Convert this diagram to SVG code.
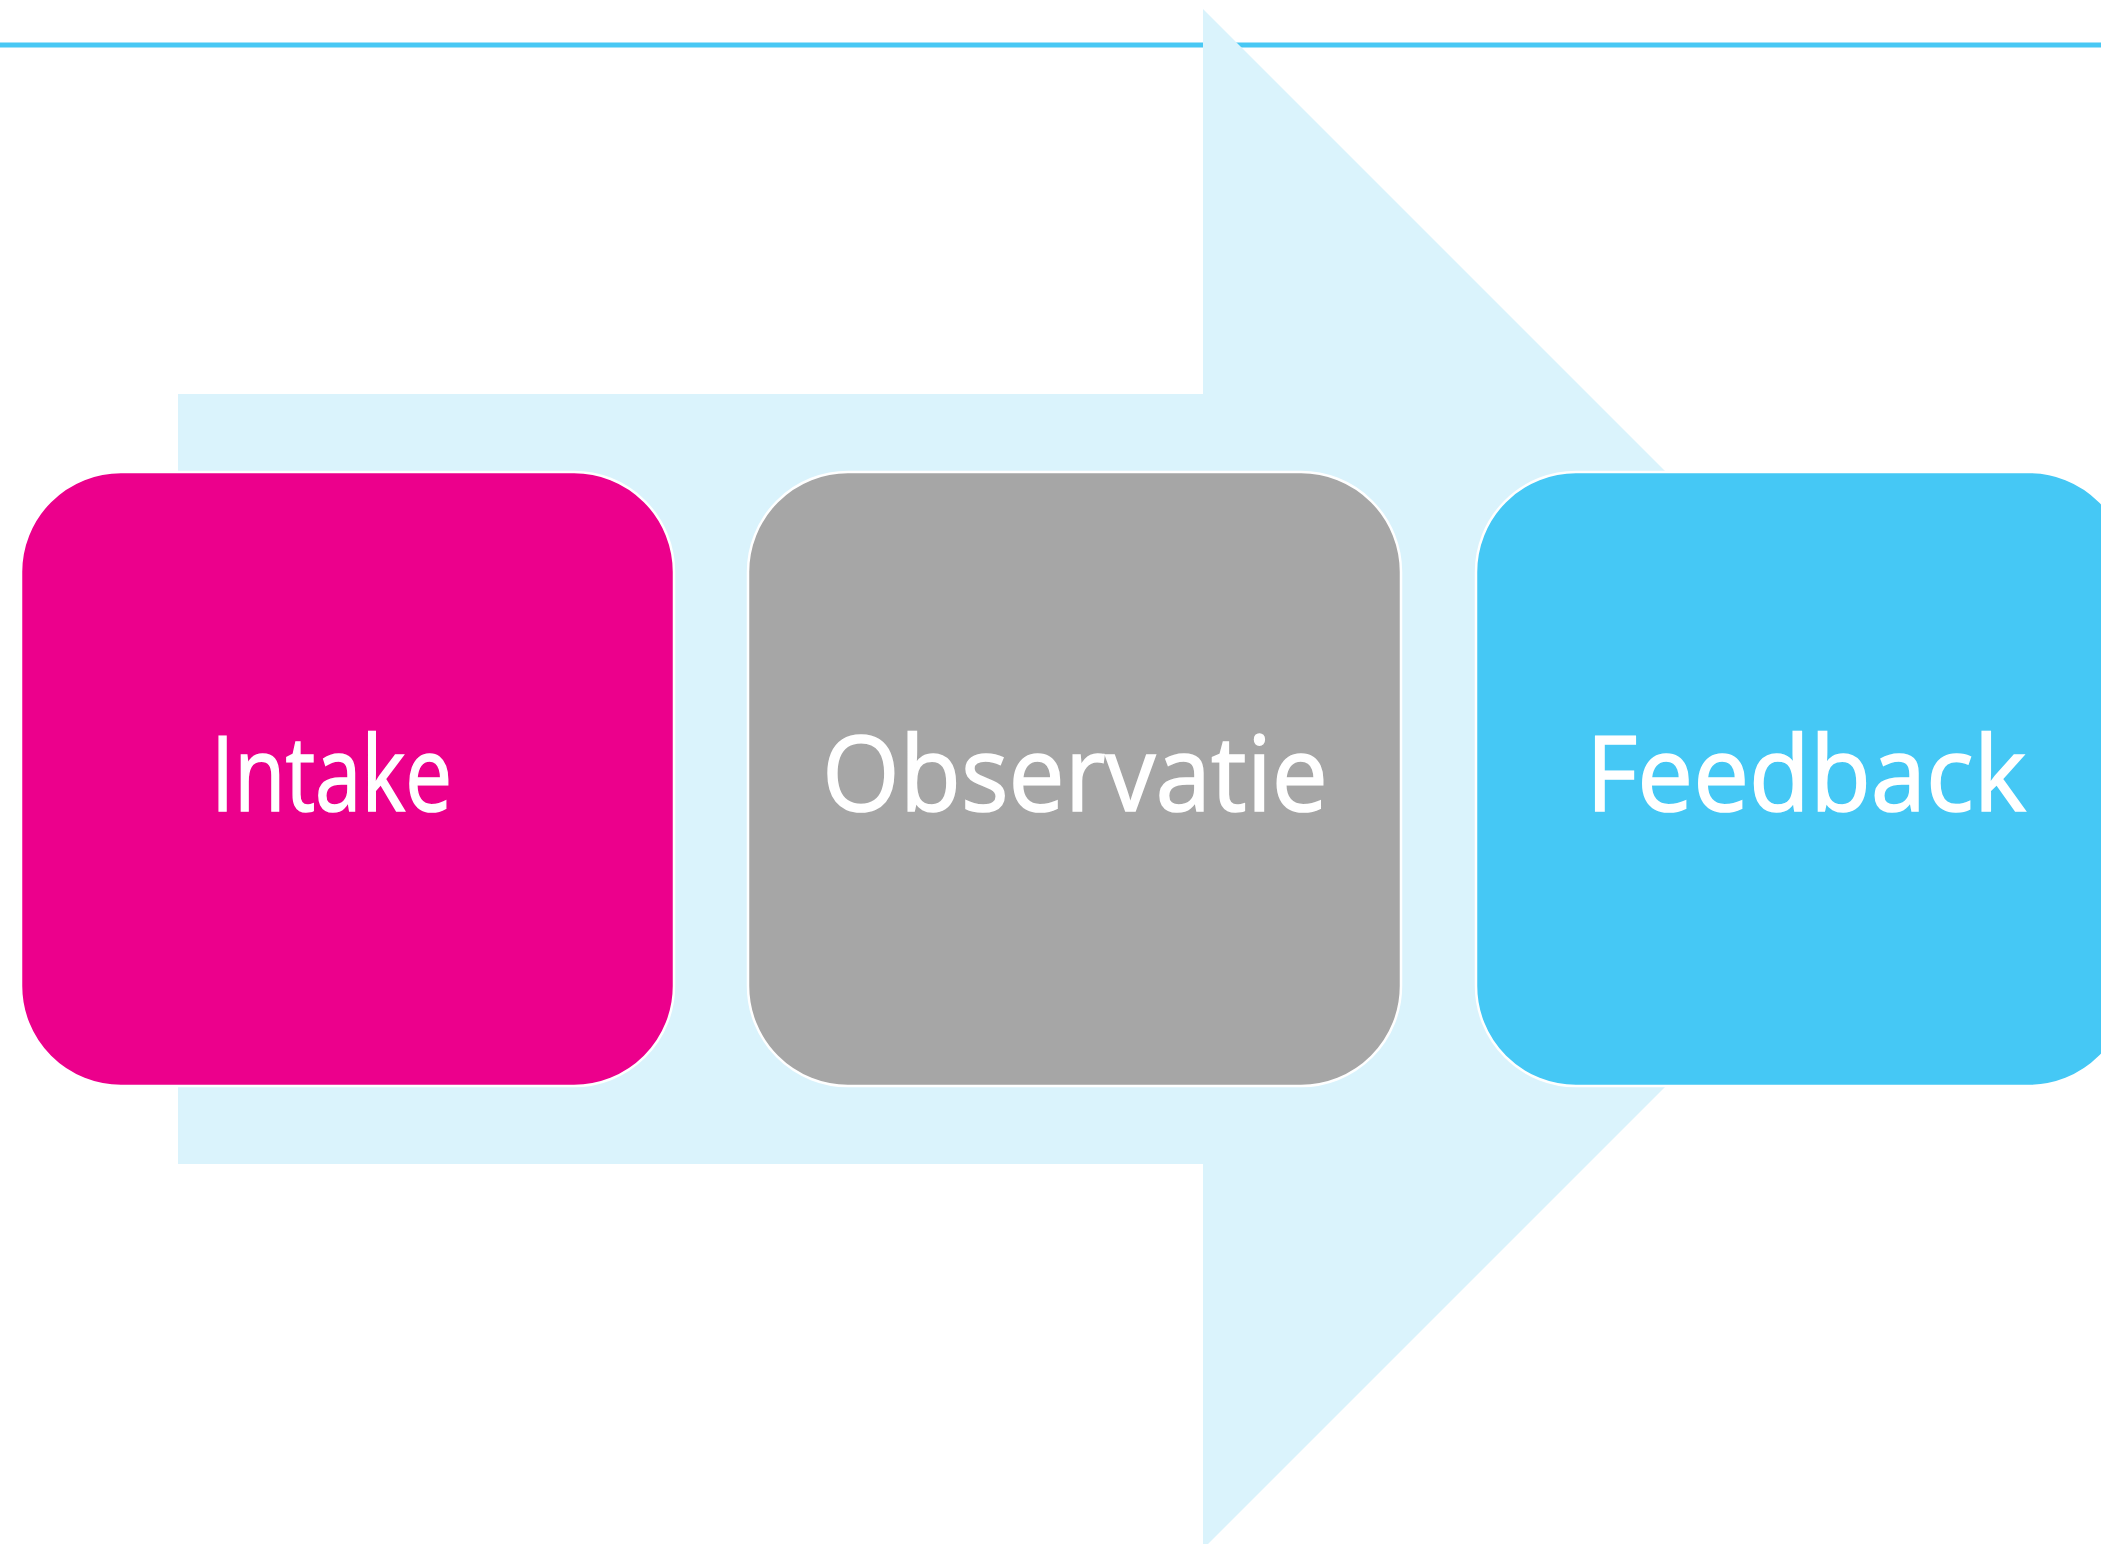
<svg xmlns="http://www.w3.org/2000/svg" width="2101" height="1544" viewBox="0 0 2101 1544">
<style>
.box{stroke:#ffffff;stroke-width:2.5}
.lbl{font-family:"Open Sans","Noto Sans","Liberation Sans",sans-serif;font-size:104px;fill:#ffffff;stroke:#ffffff;stroke-width:1.6}
</style>
<rect x="0" y="0" width="2101" height="1544" fill="#ffffff"/>
<line x1="0" y1="45" x2="2101" y2="45" stroke="#48C8F4" stroke-width="5"/>
<polygon id="arrow" points="178,394 1203,394 1203,9 1973,779 1203,1549 1203,1164 178,1164" fill="#DAF3FC"/>
<g id="connectors"></g>
<g id="intake">
<rect class="box" x="21" y="472" width="653" height="614" rx="100" ry="100" fill="#EC008C"/>
<text class="lbl" x="211" y="811" textLength="241" lengthAdjust="spacingAndGlyphs">Intake</text>
</g>
<g id="observatie">
<rect class="box" x="748" y="472" width="653" height="614" rx="100" ry="100" fill="#A6A6A6"/>
<text class="lbl" x="822" y="811" textLength="506" lengthAdjust="spacingAndGlyphs">Observatie</text>
</g>
<g id="feedback">
<rect class="box" x="1476" y="472" width="653" height="614" rx="100" ry="100" fill="#45C8F5"/>
<text class="lbl" x="1586" y="811" textLength="440" lengthAdjust="spacingAndGlyphs">Feedback</text>
</g>
</svg>
